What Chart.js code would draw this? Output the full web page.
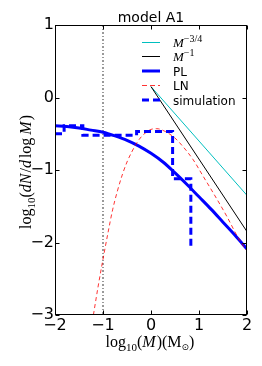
<!DOCTYPE html>
<html>
<head>
<meta charset="utf-8">
<script src="https://cdn.jsdelivr.net/npm/chart.js@4.4.1/dist/chart.umd.min.js"></script>
<style>
html, body { margin: 0; padding: 0; background: #fff; }
#wrap { width: 262px; height: 366px; position: relative; }
</style>
</head>
<body>
<div id="wrap"><canvas id="chart_canvas"></canvas></div>
<script>
// axis ticks
var xTicks = [-2, -1, 0, 1, 2];
var yTicks = [-3, -2, -1, 0, 1];

// PL (tapered power law)
var plX = [-2, -1.75, -1.5, -1.25, -1, -0.75, -0.5, -0.25, 0, 0.25, 0.5, 0.75, 1, 1.25, 1.5, 1.75, 2];
var plY = [-0.39, -0.40, -0.42, -0.45, -0.48, -0.53, -0.59, -0.67, -0.77, -0.89, -1.04, -1.20, -1.37, -1.54, -1.72, -1.90, -2.09];

// LN (lognormal)
var lnX = [-1.2, -1.1, -1, -0.9, -0.8, -0.7, -0.6, -0.5, -0.4, -0.3, -0.2, -0.1, 0, 0.12, 0.3, 0.5, 0.67, 0.88, 1.09, 1.3, 1.58, 1.82, 2];
var lnY = [-3.0, -2.6, -2.23, -1.88, -1.55, -1.29, -1.07, -0.89, -0.75, -0.63, -0.54, -0.48, -0.44, -0.43, -0.47, -0.56, -0.68, -0.86, -1.09, -1.32, -1.64, -1.94, -2.12];

// simulation histogram (value holds from edge to next edge)
var simX = [-2, -1.81, -1.42, -0.3, 0.45, 0.83];
var simY = [-0.50, -0.39, -0.52, -0.47, -1.12, -2.06];

// reference slopes
var slopeX = [0, 2];
var slope34Y = [0.15, -1.35];
var slope1Y = [0.15, -1.85];

// cutoff line
var cutX = [-1, -1];
var cutY = [1, -3];

function pts(xs, ys) {
    return xs.map(function (x, i) { return { x: x, y: ys[i] }; });
}

var SERIF = '"Liberation Serif"';

function drawParts(ctx, parts, x, y, align) {
    var total = 0;
    parts.forEach(function (p) {
        ctx.font = p.f;
        p.w = ctx.measureText(p.t).width + (p.gap || 0);
        total += p.w;
    });
    var cx = align === 'left' ? x : x - total / 2;
    ctx.textAlign = 'left';
    parts.forEach(function (p) {
        ctx.font = p.f;
        ctx.fillText(p.t, cx, y + (p.dy || 0));
        cx += p.w;
    });
}

var decor = {
    id: 'decor',
    afterDatasetsDraw: function (chart) {
        var ctx = chart.ctx;
        var a = chart.chartArea;
        var xs = chart.scales.x, ys = chart.scales.y;
        var l = Math.round(a.left) + 0.5, r = Math.round(a.right) - 0.5;
        var t = Math.round(a.top) + 0.5, b = Math.round(a.bottom) - 0.5;
        ctx.save();
        ctx.strokeStyle = '#000';
        ctx.lineWidth = 1;
        ctx.setLineDash([]);
        ctx.strokeRect(l, t, r - l, b - t);
        ctx.beginPath();
        xTicks.forEach(function (v) {
            var px = Math.round(xs.getPixelForValue(v)) + 0.5;
            ctx.moveTo(px, b); ctx.lineTo(px, b - 4);
            ctx.moveTo(px, t); ctx.lineTo(px, t + 4);
        });
        yTicks.forEach(function (v) {
            var py = Math.round(ys.getPixelForValue(v)) + 0.5;
            ctx.moveTo(l, py); ctx.lineTo(l + 4, py);
            ctx.moveTo(r, py); ctx.lineTo(r - 4, py);
        });
        ctx.stroke();
        ctx.restore();
    },
    afterDraw: function (chart) {
        var ctx = chart.ctx;
        ctx.save();
        ctx.fillStyle = '#000';
        ctx.textBaseline = 'alphabetic';

        // title
        ctx.font = '14px "DejaVu Sans"';
        ctx.textAlign = 'center';
        ctx.fillText('model A1', 151, 22);

        // legend
        var rows = [
            { y: 42.5, color: '#00bfbf', w: 1, dash: [], label: [{ t: 'M', f: 'italic 13px ' + SERIF }, { t: '\u22123/4', f: '10px ' + SERIF, dy: -5 }] },
            { y: 56.5, color: '#000', w: 1, dash: [], label: [{ t: 'M', f: 'italic 13px ' + SERIF }, { t: '\u22121', f: '10px ' + SERIF, dy: -5 }] },
            { y: 71, color: '#0000ff', w: 3, dash: [], label: [{ t: 'PL', f: '12px "DejaVu Sans"' }] },
            { y: 85.5, color: 'rgba(255,0,0,0.8)', w: 1, dash: [5, 3], label: [{ t: 'LN', f: '12px "DejaVu Sans"' }] },
            { y: 100, color: '#0000ff', w: 3, dash: [7, 4], label: [{ t: 'simulation', f: '12px "DejaVu Sans"' }] }
        ];
        rows.forEach(function (row) {
            ctx.beginPath();
            ctx.strokeStyle = row.color;
            ctx.lineWidth = row.w;
            ctx.setLineDash(row.dash);
            ctx.moveTo(142, row.y);
            ctx.lineTo(160, row.y);
            ctx.stroke();
            ctx.setLineDash([]);
            drawParts(ctx, row.label, 173, row.y + 4.5, 'left');
        });

        // x label
        drawParts(ctx, [
            { t: 'log', f: '16px ' + SERIF },
            { t: '10', f: '11px ' + SERIF, dy: 3.5 },
            { t: '(', f: '16px ' + SERIF },
            { t: 'M', f: 'italic 16px ' + SERIF, gap: 1 },
            { t: ')(', f: '16px ' + SERIF },
            { t: 'M', f: '16px ' + SERIF },
            { t: '\u2299', f: '9px "DejaVu Sans"', dy: 3 },
            { t: ')', f: '16px ' + SERIF }
        ], 150, 347);

        // y label
        ctx.translate(31, 172);
        ctx.rotate(-Math.PI / 2);
        drawParts(ctx, [
            { t: 'log', f: '16px ' + SERIF },
            { t: '10', f: '11px ' + SERIF, dy: 3.5 },
            { t: '(', f: '16px ' + SERIF },
            { t: 'dN', f: 'italic 16px ' + SERIF, gap: 1 },
            { t: '/', f: '16px ' + SERIF },
            { t: 'd', f: 'italic 16px ' + SERIF, gap: 2 },
            { t: 'log', f: '16px ' + SERIF, gap: 3 },
            { t: 'M', f: 'italic 16px ' + SERIF, gap: 1 },
            { t: ')', f: '16px ' + SERIF }
        ], 0, 0);
        ctx.restore();
    }
};

function fmt(v) {
    return String(v).replace('-', '\u2212');
}

var ctx = document.getElementById('chart_canvas').getContext('2d');
var chart = new Chart(ctx, {
    type: 'line',
    data: {
        datasets: [{
            label: 'M^-3/4',
            data: pts(slopeX, slope34Y),
            borderColor: '#00bfbf',
            borderWidth: 1,
            order: 4
        }, {
            label: 'M^-1',
            data: pts(slopeX, slope1Y),
            borderColor: '#000',
            borderWidth: 1,
            order: 3
        }, {
            label: 'PL',
            data: pts(plX, plY),
            borderColor: '#0000ff',
            borderWidth: 3,
            cubicInterpolationMode: 'monotone',
            order: 2
        }, {
            label: 'LN',
            data: pts(lnX, lnY),
            borderColor: 'rgba(255,0,0,0.8)',
            borderWidth: 1,
            borderDash: [4, 3],
            cubicInterpolationMode: 'monotone',
            order: 1
        }, {
            label: 'simulation',
            data: pts(simX, simY),
            borderColor: '#0000ff',
            borderWidth: 3,
            borderDash: [7, 4],
            stepped: 'before',
            order: 0
        }, {
            label: 'cut',
            data: pts(cutX, cutY),
            borderColor: 'rgba(0,0,0,0.8)',
            borderWidth: 1,
            borderDash: [2, 2, 1, 2],
            order: 5
        }]
    },
    options: {
        responsive: true,
        maintainAspectRatio: false,
        animation: false,
        devicePixelRatio: 1,
        layout: { padding: { left: 0, right: 15, top: 25, bottom: 0 } },
        elements: { point: { radius: 0 }, line: { tension: 0, fill: false } },
        plugins: { legend: { display: false }, tooltip: { enabled: false }, title: { display: false } },
        scales: {
            x: {
                type: 'linear',
                min: -2, max: 2,
                grid: { display: false, drawTicks: false },
                border: { display: false },
                ticks: {
                    stepSize: 1, autoSkip: false, maxRotation: 0, padding: 1,
                    color: '#000', font: { family: 'DejaVu Sans', size: 16 },
                    callback: fmt
                },
                afterFit: function (s) { s.height = 51; }
            },
            y: {
                type: 'linear',
                min: -3, max: 1,
                grid: { display: false, drawTicks: false },
                border: { display: false },
                ticks: {
                    stepSize: 1, autoSkip: false, padding: 1,
                    color: '#000', font: { family: 'DejaVu Sans', size: 16 },
                    callback: fmt
                },
                afterFit: function (s) { s.width = 55; }
            }
        }
    },
    plugins: [decor]
});
</script>
</body>
</html>
